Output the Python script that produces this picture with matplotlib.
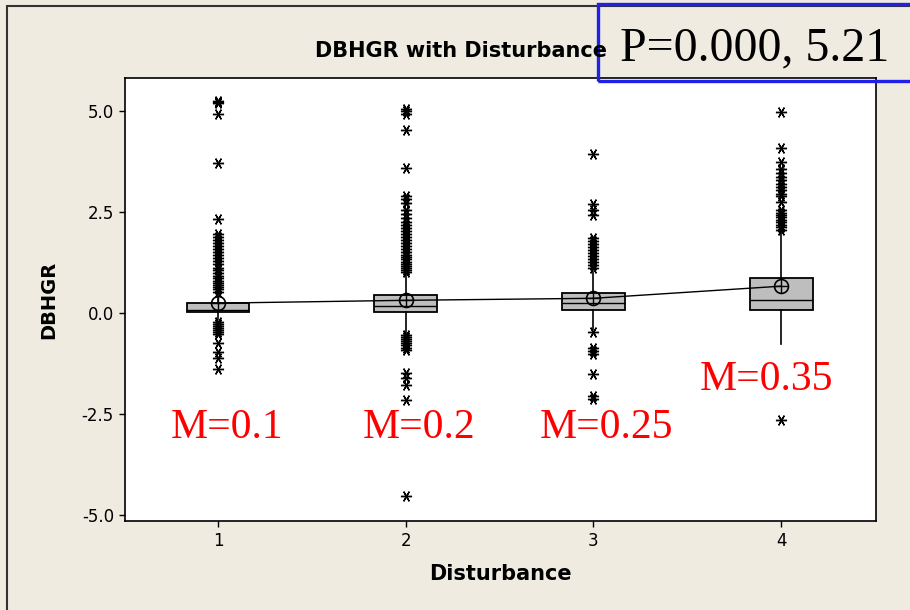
import matplotlib
matplotlib.use("Agg")
import matplotlib.pyplot as plt
from matplotlib.patches import Rectangle

# Disturbance classes and summary statistics of DBHGR per class
groups = [1, 2, 3, 4]
q1 = [0.03, 0.03, 0.07, 0.07]
medians = [0.08, 0.16, 0.24, 0.31]
q3 = [0.25, 0.44, 0.48, 0.86]
whisker_low = [-0.15, -0.49, -0.40, -0.78]
whisker_high = [0.45, 0.96, 1.00, 2.00]
means = [0.24, 0.31, 0.36, 0.66]

outliers_1 = [5.25, 5.22, 5.18, 4.92, 3.70, 2.33, 1.95, 1.88, 1.80, 1.72, 1.65,
              1.58, 1.50, 1.42, 1.35, 1.28, 1.20, 1.12, 1.05, 0.98, 0.92, 0.85,
              0.80, 0.74, 0.68, 0.63, 0.58, 0.52,
              -0.22, -0.28, -0.33, -0.38, -0.42, -0.47, -0.52, -0.75, -0.98,
              -1.12, -1.38]
outliers_2 = [5.05, 5.00, 4.92, 4.52, 3.58, 2.88, 2.82, 2.72, 2.55, 2.45, 2.35,
              2.25, 2.18, 2.10, 2.02, 1.95, 1.88, 1.80, 1.72, 1.65, 1.58, 1.50,
              1.44, 1.38, 1.32, 1.26, 1.20, 1.15, 1.10, 1.05, 1.00,
              -0.55, -0.60, -0.65, -0.70, -0.75, -0.80, -0.86, -0.92,
              -1.50, -1.62, -1.78, -2.15, -4.52]
outliers_3 = [3.93, 2.69, 2.55, 2.42, 1.85, 1.78, 1.70, 1.62, 1.55, 1.48, 1.40,
              1.32, 1.25, 1.18, 1.10,
              -0.47, -0.88, -0.95, -1.02, -1.51, -2.05, -2.12]
outliers_4 = [4.98, 4.07, 3.74, 3.55, 3.45, 3.36, 3.28, 3.20, 3.12, 3.04, 2.95,
              2.88, 2.75, 2.55, 2.48, 2.42, 2.36, 2.30, 2.24, 2.18, 2.12, 2.06,
              -2.65]
outliers = [outliers_1, outliers_2, outliers_3, outliers_4]

mean_labels = ["M=0.1", "M=0.2", "M=0.25", "M=0.35"]
mean_label_x = [1.05, 2.07, 3.07, 3.92]
mean_label_y = [-3.09, -3.09, -3.09, -1.90]

title = "DBHGR with Disturbance"
stat_text = "P=0.000, 5.21"
x_label = "Disturbance"
y_label = "DBHGR"
y_ticks = [-5.0, -2.5, 0.0, 2.5, 5.0]

BG = "#EFEBE1"

fig = plt.figure(figsize=(9.1, 6.1), dpi=100, facecolor=BG)
ax = fig.add_axes([0.1374, 0.1459, 0.8252, 0.7262])
ax.set_facecolor("white")

stats = []
for i in range(len(groups)):
    stats.append(dict(med=medians[i], q1=q1[i], q3=q3[i],
                      whislo=whisker_low[i], whishi=whisker_high[i],
                      fliers=outliers[i], label=str(groups[i])))

ax.bxp(stats, positions=groups, widths=0.335, showcaps=False,
       showfliers=True, patch_artist=True,
       boxprops=dict(facecolor="#BEBEBE", edgecolor="black", linewidth=1.3),
       medianprops=dict(color="black", linewidth=1.0),
       whiskerprops=dict(color="black", linewidth=1.2),
       flierprops=dict(marker=(6, 2, 90), markersize=8, markeredgewidth=1.0,
                       markeredgecolor="black", linestyle="none"))

# connect the group means
ax.plot(groups, means, color="black", linewidth=1.0, marker="o",
        markersize=10, markerfacecolor="none", markeredgecolor="black",
        markeredgewidth=1.2, zorder=5)
ax.plot(groups, means, linestyle="none", marker="+", markersize=10,
        markeredgecolor="black", markeredgewidth=1.0, zorder=5)

for txt, x, y in zip(mean_labels, mean_label_x, mean_label_y):
    ax.text(x, y, txt, color="red", fontsize=30, family="Liberation Serif",
            ha="center", va="baseline", zorder=6)

ax.set_xlim(0.505, 4.505)
ax.set_ylim(-5.15, 5.81)
ax.set_xticks(groups)
ax.set_xticklabels([str(g) for g in groups])
ax.set_yticks(y_ticks)
ax.set_yticklabels([f"{v:.1f}" for v in y_ticks])
ax.tick_params(direction="out", length=4, width=1, labelsize=12, pad=4)
for s in ax.spines.values():
    s.set_linewidth(1.2)
    s.set_color("black")

ax.set_xlabel(x_label, fontsize=15, fontweight="bold", labelpad=10)
ax.set_ylabel(y_label, fontsize=14, fontweight="bold", labelpad=17)

fig.text(461 / 910, 1 - 57 / 610, title, fontsize=15, fontweight="bold",
         ha="center", va="baseline")
fig.text(620 / 910, 1 - 60 / 610, stat_text, fontsize=34.5,
         family="Liberation Serif", ha="left", va="baseline")

# outer panel frame and highlight box
fig.patches.append(Rectangle((7 / 910, -0.1), 1.2, 1 - 6 / 610 + 0.1,
                             transform=fig.transFigure, fill=False,
                             edgecolor="#333333", linewidth=1.5))
fig.patches.append(Rectangle((598 / 910, 1 - 81 / 610), 0.4, 77 / 610,
                             transform=fig.transFigure, fill=False,
                             edgecolor="#2020E8", linewidth=2.4))

fig.savefig("out.png", dpi=100, facecolor=BG)
